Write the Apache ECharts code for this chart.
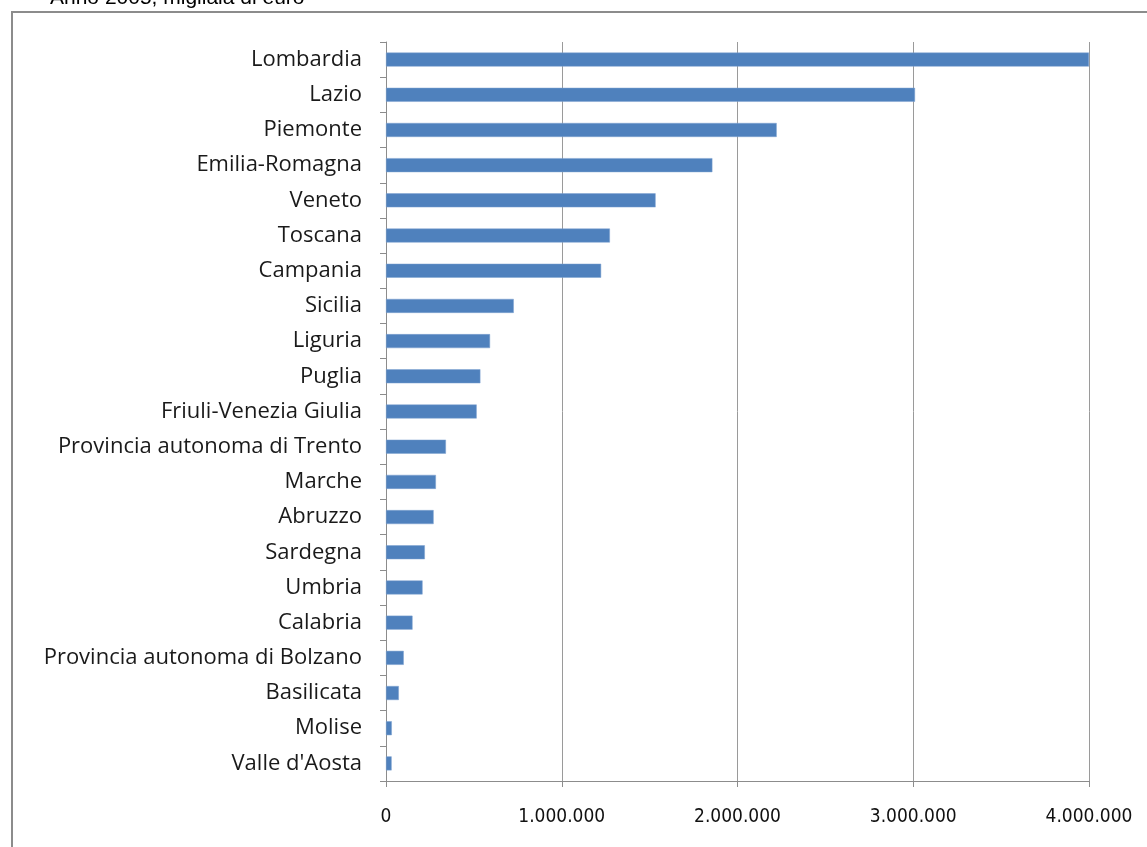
<!DOCTYPE html>
<html>
<head>
<meta charset="utf-8">
<script src="https://cdn.jsdelivr.net/npm/echarts@6/dist/echarts.min.js"></script>
<style>
  html, body { margin: 0; padding: 0; background: #fff; }
  #chart { width: 1147px; height: 847px; }
</style>
</head>
<body>
<div id="chart"></div>
<script>
// regioni, dall'alto in basso
var regioni = ['Lombardia', 'Lazio', 'Piemonte', 'Emilia-Romagna', 'Veneto', 'Toscana',
  'Campania', 'Sicilia', 'Liguria', 'Puglia', 'Friuli-Venezia Giulia',
  'Provincia autonoma di Trento', 'Marche', 'Abruzzo', 'Sardegna', 'Umbria',
  'Calabria', 'Provincia autonoma di Bolzano', 'Basilicata', 'Molise', "Valle d'Aosta"];
// migliaia di euro
var valori = [4000000, 3010000, 2223000, 1857000, 1534000, 1274000,
  1224000, 727000, 592000, 537000, 516000,
  341000, 284000, 271000, 221000, 208000,
  151000, 101000, 73000, 33000, 32000];
var sottotitolo = 'Anno 2005, migliaia di euro';

function formatta(v) {
  // separatore delle migliaia con il punto
  return String(v).replace(/\B(?=(\d{3})+(?!\d))/g, '.');
}

var myChart = echarts.init(document.getElementById('chart'));
var option = {
  animation: false,
  backgroundColor: '#fff',
  graphic: [
    {
      type: 'rect',
      shape: { x: 12, y: 12, width: 1300, height: 1000 },
      style: { fill: 'none', stroke: '#8c8c8c', lineWidth: 2 }
    },
    {
      type: 'text',
      left: 50,
      top: -12,
      style: { text: sottotitolo, fill: '#000', font: '21px "Liberation Sans", Arial' }
    }
  ],
  grid: { left: 386, right: 58, top: 42, bottom: 66 },
  xAxis: {
    type: 'value',
    min: 0,
    max: 4000000,
    interval: 1000000,
    axisLine: { show: true, lineStyle: { color: '#8c8c8c', width: 1 } },
    axisTick: { show: true, length: 6, lineStyle: { color: '#8c8c8c' } },
    splitLine: { show: true, lineStyle: { color: '#9a9a9a', width: 1 } },
    axisLabel: {
      margin: 27,
      color: '#111',
      fontFamily: 'DejaVu Sans Condensed',
      fontSize: 19,
      formatter: formatta
    }
  },
  yAxis: {
    type: 'category',
    inverse: true,
    data: regioni,
    axisLine: { show: true, lineStyle: { color: '#8c8c8c', width: 1 } },
    axisTick: { show: true, length: 6, inside: false, lineStyle: { color: '#8c8c8c' } },
    axisLabel: {
      margin: 24,
      color: '#1a1a1a',
      fontFamily: 'Open Sans',
      fontSize: 22
    }
  },
  series: [{
    type: 'bar',
    data: valori,
    barWidth: 14,
    itemStyle: { color: '#4f81bd', borderColor: '#7fa3d1', borderWidth: 0.5 }
  }]
};
myChart.setOption(option);
</script>
</body>
</html>
